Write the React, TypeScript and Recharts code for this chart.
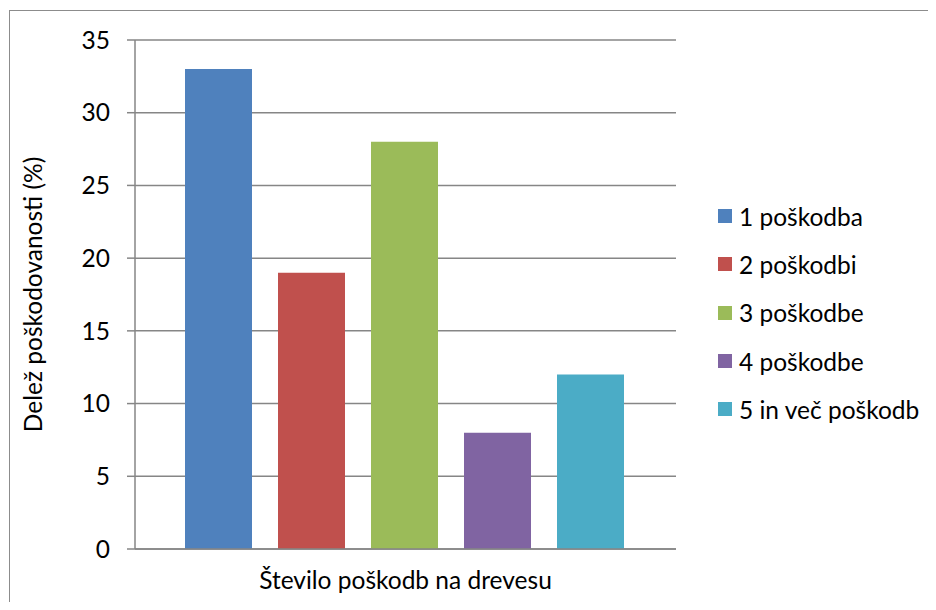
import { BarChart, Bar, XAxis, YAxis, CartesianGrid } from "recharts"

// Share of damaged trees by number of damages per tree
const seriesNames = ["1 poškodba", "2 poškodbi", "3 poškodbe", "4 poškodbe", "5 in več poškodb"]
const seriesValues = [33, 19, 28, 8, 12]
const seriesColors = ["#4F81BD", "#C0504D", "#9BBB59", "#8064A2", "#4BACC6"]
const yTicks = [0, 5, 10, 15, 20, 25, 30, 35]

const row: Record<string, string | number> = { name: "" }
seriesValues.forEach((v, i) => {
  row[`s${i}`] = v
})
const data = [row]

const font = "Lato, 'Open Sans', sans-serif"
const fontSize = 24.5
const axisGray = "#868686"

const LegendList = () => (
  <div style={{ position: "absolute", left: 718, top: 192, fontFamily: font, fontSize, color: "#000" }}>
    {seriesNames.map((n, i) => (
      <div key={n} style={{ display: "flex", alignItems: "center", height: 48.3 }}>
        <span
          style={{ width: 14, height: 14, background: seriesColors[i], display: "inline-block", marginRight: 7 }}
        />
        <span>{n}</span>
      </div>
    ))}
  </div>
)

export default function App() {
  return (
    <div style={{ position: "relative", width: 936, height: 610, margin: -8, overflow: "hidden", background: "#fff" }}>
      <div
        style={{
          position: "absolute",
          left: 9,
          top: 10,
          right: -2,
          bottom: -2,
          borderTop: "1px solid #8c8c8c",
          borderLeft: "1px solid #8c8c8c",
        }}
      />
      <BarChart
        width={936}
        height={610}
        data={data}
        margin={{ top: 40, right: 260, bottom: 0, left: 75 }}
        barCategoryGap={50}
        barGap={26}
        style={{ position: "absolute", left: 0, top: 0 }}
      >
        <CartesianGrid vertical={false} stroke={axisGray} strokeWidth={1.5} />
        {/* tick marks at both ends of the category axis */}
        <XAxis
          xAxisId="edges"
          type="number"
          domain={[0, 1]}
          ticks={[0, 1]}
          height={0}
          tick={false}
          tickLine={{ stroke: axisGray, strokeWidth: 1.5 }}
          tickSize={8}
          axisLine={false}
        />
        <XAxis
          dataKey="name"
          height={61}
          tick={false}
          tickLine={false}
          axisLine={{ stroke: axisGray, strokeWidth: 1.5 }}
          label={{
            value: "Število poškodb na drevesu",
            position: "insideTop",
            offset: 23,
            style: { fontFamily: font, fontSize, fill: "#000" },
          }}
        />
        <YAxis
          width={60}
          domain={[0, 35]}
          ticks={yTicks}
          interval={0}
          tickSize={8}
          tickMargin={17}
          tickLine={{ stroke: axisGray, strokeWidth: 1.5 }}
          axisLine={{ stroke: axisGray, strokeWidth: 1.5 }}
          tick={{ fontFamily: font, fontSize, fill: "#000" }}
          label={{
            value: "Delež poškodovanosti (%)",
            angle: -90,
            position: "insideLeft",
            offset: -42,
            style: { fontFamily: font, fontSize, fill: "#000", textAnchor: "middle" },
          }}
        />
        {seriesNames.map((n, i) => (
          <Bar key={n} dataKey={`s${i}`} name={n} fill={seriesColors[i]} isAnimationActive={false} />
        ))}
      </BarChart>
      <LegendList />
    </div>
  )
}
